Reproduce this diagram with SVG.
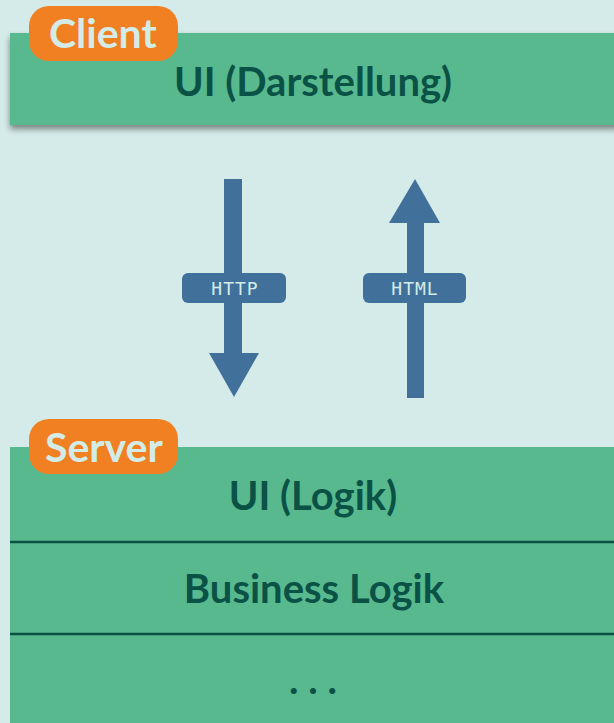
<svg xmlns="http://www.w3.org/2000/svg" width="614" height="723" viewBox="0 0 614 723">
  <style>
    .layer { fill: #58b98f; }
    .badge { fill: #f08022; }
    .badge-text { font-family: Lato, "Open Sans", sans-serif; font-weight: 700; font-size: 41px; fill: #d3ece8; }
    .layer-text { font-family: Lato, "Open Sans", sans-serif; font-weight: 700; font-size: 40px; fill: #0b5246; text-anchor: middle; }
    .divider { stroke: #0b5246; stroke-width: 2.5; }
    .arrow { fill: #41719b; }
    .tag { fill: #41719b; }
    .tag-text { font-family: "DejaVu Sans Mono", "Liberation Mono", monospace; font-size: 18px; letter-spacing: 1px; fill: #d3ece8; text-anchor: middle; }
  </style>
  <defs>
    <filter id="shadow" x="-5%" y="-20%" width="110%" height="150%">
      <feGaussianBlur in="SourceAlpha" stdDeviation="3"/>
      <feOffset dx="0" dy="4"/>
      <feComponentTransfer><feFuncA type="linear" slope="0.45"/></feComponentTransfer>
      <feMerge><feMergeNode/><feMergeNode in="SourceGraphic"/></feMerge>
    </filter>
  </defs>

  <rect width="614" height="723" fill="#d5ebe9"/>

  <!-- Client tier -->
  <g id="client">
    <rect class="layer" x="10" y="33" width="610" height="92" filter="url(#shadow)"/>
    <text class="layer-text" x="313" y="96">UI (Darstellung)</text>
    <rect class="badge" x="29" y="6" width="149" height="55" rx="20"/>
    <text class="badge-text" x="49" y="48">Client</text>
  </g>

  <!-- Request / response arrows -->
  <g id="connectors">
    <g id="http">
      <rect class="arrow" x="224" y="179" width="18" height="176"/>
      <polygon class="arrow" points="209,353 259,353 234,397"/>
      <rect class="tag" x="182" y="273" width="104" height="30" rx="6"/>
      <text class="tag-text" x="235" y="295">HTTP</text>
    </g>
    <g id="html">
      <rect class="arrow" x="407" y="221" width="17" height="177"/>
      <polygon class="arrow" points="389,223 440,223 415,179"/>
      <rect class="tag" x="363" y="273" width="103" height="30" rx="6"/>
      <text class="tag-text" x="415" y="295">HTML</text>
    </g>
  </g>

  <!-- Server tier -->
  <g id="server">
    <rect class="layer" x="10" y="447" width="610" height="280"/>
    <line class="divider" x1="10" y1="542" x2="614" y2="542"/>
    <line class="divider" x1="10" y1="634" x2="614" y2="634"/>
    <g id="ui-logik">
      <text class="layer-text" x="313" y="510">UI (Logik)</text>
    </g>
    <g id="business-logik">
      <text class="layer-text" x="314" y="603">Business Logik</text>
    </g>
    <g id="more">
      <text class="layer-text" x="313" y="694">. . .</text>
    </g>
    <rect class="badge" x="29" y="419" width="149" height="55" rx="20"/>
    <text class="badge-text" x="45" y="462">Server</text>
  </g>
</svg>
